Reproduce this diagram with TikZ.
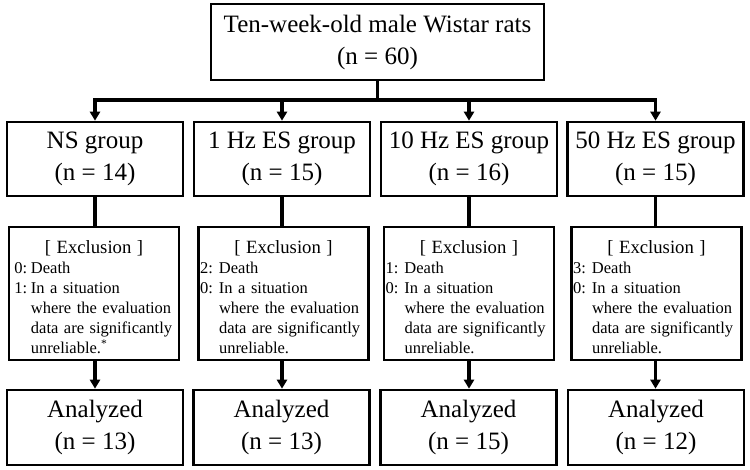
\documentclass[tikz,border=0pt]{standalone}
\usepackage{fontspec}
\setmainfont{Liberation Serif}
\usetikzlibrary{arrows.meta}
\newcommand{\exline}[3]{\noindent\makebox[#1][l]{#2}\mbox{#3}\par}
\newcommand{\exclcontent}[4]{%
  \par\hfuzz=20bp\hbadness=10000
  \noindent\makebox[\linewidth][c]{\fontsize{18.7bp}{20bp}\selectfont [ Exclusion ]}\par
  \exline{#1}{#2:}{Death}%
  \exline{#1}{#3:}{In a situation}%
  \exline{#1}{}{where the evaluation}%
  \exline{#1}{}{data are significantly}%
  \exline{#1}{}{unreliable.#4}}
\begin{document}
\begin{tikzpicture}[x=1bp,y=-1bp,
  box/.style={draw, line width=2.6bp, inner sep=0pt, align=center,
    font=\fontsize{25bp}{32bp}\selectfont},
  topbox/.style={box, minimum width=333bp, minimum height=76bp},
  grpbox/.style={box, minimum width=176bp, minimum height=74bp},
  anabox/.style={box, minimum width=176bp, minimum height=75bp},
  exbase/.style={draw, line width=2.6bp, minimum height=133bp, inner ysep=0pt,
    align=left, font=\fontsize{16.5bp}{20bp}\selectfont},
  exboxA/.style={exbase, inner xsep=5.5bp, text width=159bp},
  exboxB/.style={exbase, inner xsep=1.5bp, text width=167bp},
  conn/.style={line width=3.3bp},
  arr/.style={conn, -{Triangle[length=9bp,width=10bp]}}
]
\useasboundingbox (0,0) rectangle (750,470);

\node[topbox] (top) at (377.5,42) {Ten-week-old male Wistar rats\\(n = 60)};

\node[grpbox] (g1) at (95,159)  {NS group\\(n = 14)};
\node[grpbox] (g2) at (282,159) {1 Hz ES group\\(n = 15)};
\node[grpbox] (g3) at (469,159) {10 Hz ES group\\(n = 16)};
\node[grpbox] (g4) at (655.5,159) {50 Hz ES group\\(n = 15)};

\node[exboxA] (e1) at (94,293.5)  {\exclcontent{16.5bp}{0}{1}{\textsuperscript{*}}};
\node[exboxB] (e2) at (283.5,293.5) {\exclcontent{19bp}{2}{0}{}};
\node[exboxB] (e3) at (469,293.5) {\exclcontent{19bp}{1}{0}{}};
\node[exboxB] (e4) at (656.5,293.5) {\exclcontent{19bp}{3}{0}{}};

\node[anabox] (a1) at (95,427.5)  {Analyzed\\(n = 13)};
\node[anabox] (a2) at (281.5,427.5) {Analyzed\\(n = 13)};
\node[anabox] (a3) at (468.5,427.5) {Analyzed\\(n = 15)};
\node[anabox] (a4) at (656,427.5) {Analyzed\\(n = 12)};

\coordinate (j) at (377.5,100);
\draw[conn] (top.south) -- (j);
\draw[conn, line cap=rect] (g1.north |- j) -- (g4.north |- j);
\foreach \g in {g1,g2,g3,g4}{
  \draw[arr] (\g.north |- j) -- (\g.north);
}
\foreach \g/\e/\a in {g1/e1/a1,g2/e2/a2,g3/e3/a3,g4/e4/a4}{
  \draw[conn] (\g.south) -- (\g.south |- \e.north);
  \draw[arr] (\g.south |- \e.south) -- (\g.south |- \a.north);
}
\end{tikzpicture}
\end{document}
